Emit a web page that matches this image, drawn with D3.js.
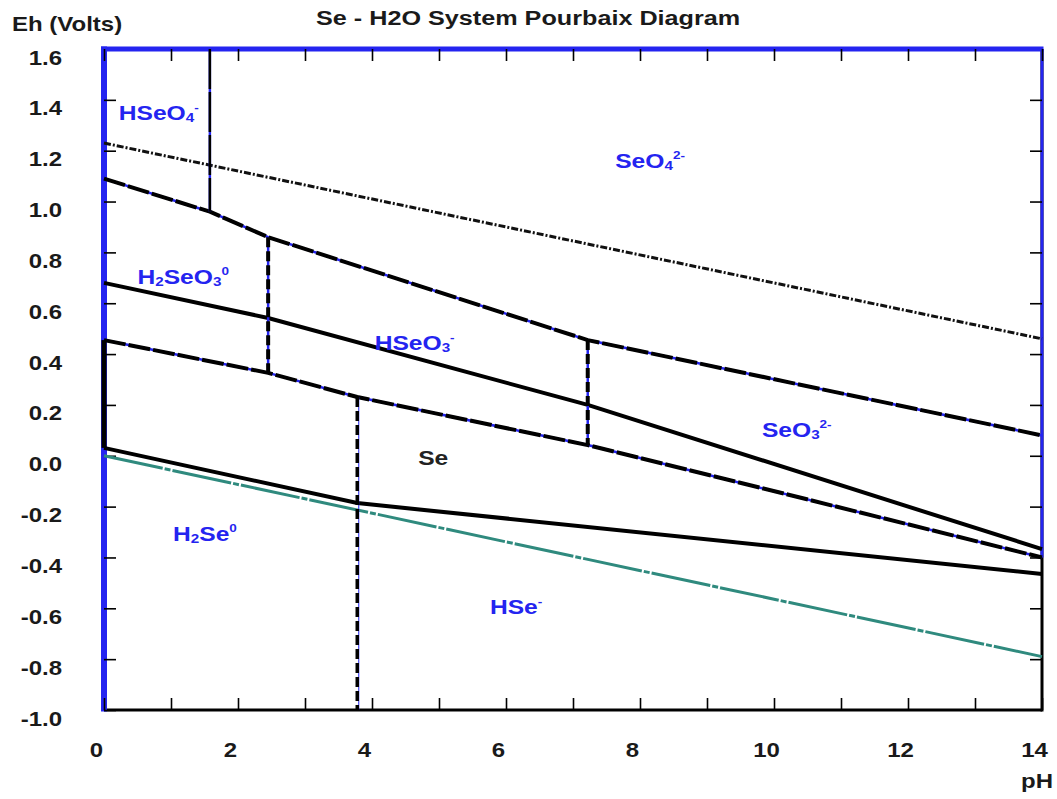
<!DOCTYPE html>
<html><head><meta charset="utf-8">
<script src="https://cdn.jsdelivr.net/npm/d3@7"></script>
<style>
html,body{margin:0;padding:0;background:#fff;}
svg{display:block;font-family:"Liberation Sans",Arial,sans-serif;font-weight:bold;}
</style></head>
<body>
<svg id="chart" width="1057" height="799"></svg>
<script>
// ---- data ----
const pHDomain = [0, 14];
const ehDomain = [-1.0, 1.6];
const xTickValues = [0,1,2,3,4,5,6,7,8,9,10,11,12,13,14];
const xTickLabels = ["0","2","4","6","8","10","12","14"];
const yTickValues = [-1.0,-0.8,-0.6,-0.4,-0.2,0.0,0.2,0.4,0.6,0.8,1.0,1.2,1.4,1.6];
const yTickLabels = ["-1.0","-0.8","-0.6","-0.4","-0.2","0.0","0.2","0.4","0.6","0.8","1.0","1.2","1.4","1.6"];

// water stability lines
const waterPH = [0, 14];
const upperWaterEh = [1.23, 0.46];
const lowerWaterEh = [0.0, -0.79];

// Se(VI)/Se(IV) boundary
const se6PH = [0, 1.58, 2.45, 7.22, 14];
const se6Eh = [1.09, 0.96, 0.86, 0.455, 0.08];
// middle solid boundary
const midPH = [0, 2.45, 7.22, 14];
const midEh = [0.68, 0.542, 0.20, -0.367];
// Se(IV)/Se boundary
const se4PH = [0, 2.45, 3.78, 7.22, 14];
const se4Eh = [0.455, 0.326, 0.231, 0.042, -0.40];
// Se/Se(-II) boundary
const se0PH = [0, 3.78, 14];
const se0Eh = [0.031, -0.186, -0.465];

// vertical boundaries
const vertPH     = [1.58, 2.45, 7.22, 3.78, 0];
const vertTopEh  = [1.6, 0.86, 0.455, 0.231, 0.455];
const vertBotEh  = [0.96, 0.326, 0.042, -1.0, 0.031];
const vertKind   = ["thin", "dashed", "dashed", "dashedW", "solid"];

// species labels
const speciesNames = ["HSeO", "SeO", "H", "HSeO", "SeO", "Se", "H", "HSe"];
const speciesSub1  = ["4", "4", "2", "3", "3", "", "2", ""];
const speciesRest  = ["", "", "SeO", "", "", "", "Se", ""];
const speciesSub2  = ["", "", "3", "", "", "", "", ""];
const speciesSup   = ["-", "2-", "0", "-", "2-", "", "0", "-"];
const speciesPH    = [0.22, 7.63, 0.5, 4.04, 9.82, 4.69, 1.03, 5.76];
const speciesEh    = [1.32, 1.132, 0.675, 0.416, 0.074, -0.036, -0.335, -0.622];
const speciesColor = ["blue","blue","blue","blue","blue","black","blue","blue"];

// ---- drawing ----
const svg = d3.select("#chart");
const x = d3.scaleLinear().domain(pHDomain).range([104, 1042]);
const y = d3.scaleLinear().domain(ehDomain).range([710, 49]);
const SX = 1.2;
const BLUE = "#2424f0";

const line = d3.line().x(d => x(d[0])).y(d => y(d[1]));
const zip = (a, b) => a.map((v, i) => [v, b[i]]);

// frame borders
svg.append("line").attr("x1", x(0)).attr("x2", x(14)).attr("y1", y(-1)).attr("y2", y(-1))
  .attr("stroke", "#000").attr("stroke-width", 3);
svg.append("line").attr("x1", x(14)).attr("x2", x(14)).attr("y1", y(1.6)).attr("y2", y(-1)+1.5)
  .attr("stroke", "#000").attr("stroke-width", 3);
svg.append("line").attr("x1", x(14)).attr("x2", x(14)).attr("y1", y(1.6)).attr("y2", y(-0.4))
  .attr("stroke", BLUE).attr("stroke-width", 3);
svg.append("line").attr("x1", x(0)-3).attr("x2", x(14)+1.5).attr("y1", y(1.6)).attr("y2", y(1.6))
  .attr("stroke", BLUE).attr("stroke-width", 5);
svg.append("line").attr("x1", x(0)).attr("x2", x(0)).attr("y1", y(1.6)-2.5).attr("y2", y(-1)+1.5)
  .attr("stroke", BLUE).attr("stroke-width", 6);

// axes (inward ticks)
const styleAxis = g => { g.select(".domain").remove(); g.selectAll(".tick line").attr("stroke", "#000").attr("stroke-width", 1.6); };

const xb = svg.append("g").attr("transform", `translate(0,${y(-1)})`)
  .call(d3.axisBottom(x).tickValues(xTickValues).tickSizeInner(-12).tickSizeOuter(0)
    .tickFormat(d => xTickLabels.includes(String(d)) ? String(d) : ""));
styleAxis(xb);
xb.selectAll(".tick text").attr("font-size", 20).attr("font-family", "Liberation Sans, Arial, sans-serif")
  .attr("font-weight", "bold").attr("fill", "#1a1a1a").attr("y", 47).attr("dy", 0)
  .attr("x", -8 / SX).attr("transform", `scale(${SX},1)`);

const xt = svg.append("g").attr("transform", `translate(0,${y(1.6)})`)
  .call(d3.axisTop(x).tickValues(xTickValues).tickSizeInner(-12).tickSizeOuter(0).tickFormat(""));
styleAxis(xt);

const yl = svg.append("g").attr("transform", `translate(${x(0)},0)`)
  .call(d3.axisLeft(y).tickValues(yTickValues).tickSizeInner(-12).tickSizeOuter(0)
    .tickFormat((d, i) => yTickLabels[i]));
styleAxis(yl);
yl.selectAll(".tick text").attr("font-size", 20).attr("font-family", "Liberation Sans, Arial, sans-serif")
  .attr("font-weight", "bold").attr("fill", "#1a1a1a").attr("text-anchor", "end")
  .attr("x", -42 / SX).attr("y", 15).attr("dy", 0).attr("transform", `scale(${SX},1)`);
yl.selectAll(".tick").filter(d => d === 1.6).select("line").remove();

const yr = svg.append("g").attr("transform", `translate(${x(14)},0)`)
  .call(d3.axisRight(y).tickValues(yTickValues).tickSizeInner(-12).tickSizeOuter(0).tickFormat(""));
styleAxis(yr);
yr.selectAll(".tick").filter(d => d === 1.6 || d === -1.0).select("line").remove();

// water lines
svg.append("path").datum(zip(waterPH, lowerWaterEh)).attr("d", line)
  .attr("fill", "none").attr("stroke", "#2f8a7e").attr("stroke-width", 3).attr("stroke-dasharray", "60,2,6,2");
svg.append("path").datum(zip(waterPH, upperWaterEh)).attr("d", line)
  .attr("fill", "none").attr("stroke", "#111").attr("stroke-width", 3).attr("stroke-dasharray", "7,2,2,2");

// blue+black dashed boundaries
function dashedBoundary(data, w) {
  svg.append("path").datum(data).attr("d", line).attr("fill", "none").attr("stroke", BLUE).attr("stroke-width", 2.5);
  svg.append("path").datum(data).attr("d", line).attr("fill", "none").attr("stroke", "#000")
    .attr("stroke-width", w).attr("stroke-dasharray", "22,3");
}
dashedBoundary(zip(se6PH, se6Eh), 4);
dashedBoundary(zip(se4PH, se4Eh), 4);

// solid boundaries
svg.append("path").datum(zip(midPH, midEh)).attr("d", line).attr("fill", "none").attr("stroke", "#000").attr("stroke-width", 4);
svg.append("path").datum(zip(se0PH, se0Eh)).attr("d", line).attr("fill", "none").attr("stroke", "#000").attr("stroke-width", 4);

// verticals
vertPH.forEach((p, i) => {
  const d = [[p, vertTopEh[i]], [p, vertBotEh[i]]];
  const k = vertKind[i];
  if (k === "thin") {
    svg.append("path").datum(d).attr("d", line).attr("stroke", BLUE).attr("stroke-width", 2.5);
    svg.append("path").datum(d).attr("d", line).attr("stroke", "#000").attr("stroke-width", 2.5).attr("stroke-dasharray", "40,3");
  } else if (k === "dashed") {
    svg.append("path").datum(d).attr("d", line).attr("stroke", BLUE).attr("stroke-width", 2.5);
    svg.append("path").datum(d).attr("d", line).attr("stroke", "#000").attr("stroke-width", 4).attr("stroke-dasharray", "10,4");
  } else if (k === "dashedW") {
    svg.append("path").datum(d).attr("d", line).attr("stroke", BLUE).attr("stroke-width", 1).attr("transform", "translate(1.5,0)");
    svg.append("path").datum(d).attr("d", line).attr("stroke", "#000").attr("stroke-width", 3.5).attr("stroke-dasharray", "10,4");
  } else {
    svg.append("path").datum(d).attr("d", line).attr("stroke", "#000").attr("stroke-width", 5);
  }
});

// text helper
function label(px, py, anchor, parts, color, size) {
  const t = svg.append("text").attr("transform", `translate(${px},${py}) scale(${SX},1)`)
    .attr("text-anchor", anchor).attr("fill", color).attr("font-size", size)
    .attr("font-family", "Liberation Sans, Arial, sans-serif").attr("font-weight", "bold");
  let shift = 0;
  parts.forEach(p => {
    if (!p.t) return;
    const ts = t.append("tspan").text(p.t);
    let target = 0, fs = size;
    if (p.k === "sub") { target = 2; fs = size * 0.62; }
    if (p.k === "sup") { target = -9; fs = size * 0.55; }
    ts.attr("font-size", fs).attr("dy", target - shift);
    shift = target;
  });
  return t;
}

label(316, 25, "start", [{t: "Se - H2O System Pourbaix Diagram"}], "#1a1a1a", 21);
label(12, 31, "start", [{t: "Eh (Volts)"}], "#1a1a1a", 20);
label(1053, 788, "end", [{t: "pH"}], "#1a1a1a", 20);

speciesNames.forEach((n, i) => {
  const parts = [{t: n}, {t: speciesSub1[i], k: "sub"}, {t: speciesRest[i]}, {t: speciesSub2[i], k: "sub"}, {t: speciesSup[i], k: "sup"}];
  label(x(speciesPH[i]), y(speciesEh[i]), "start", parts,
    speciesColor[i] === "blue" ? BLUE : "#222", 20.5);
});
</script>
</body></html>
